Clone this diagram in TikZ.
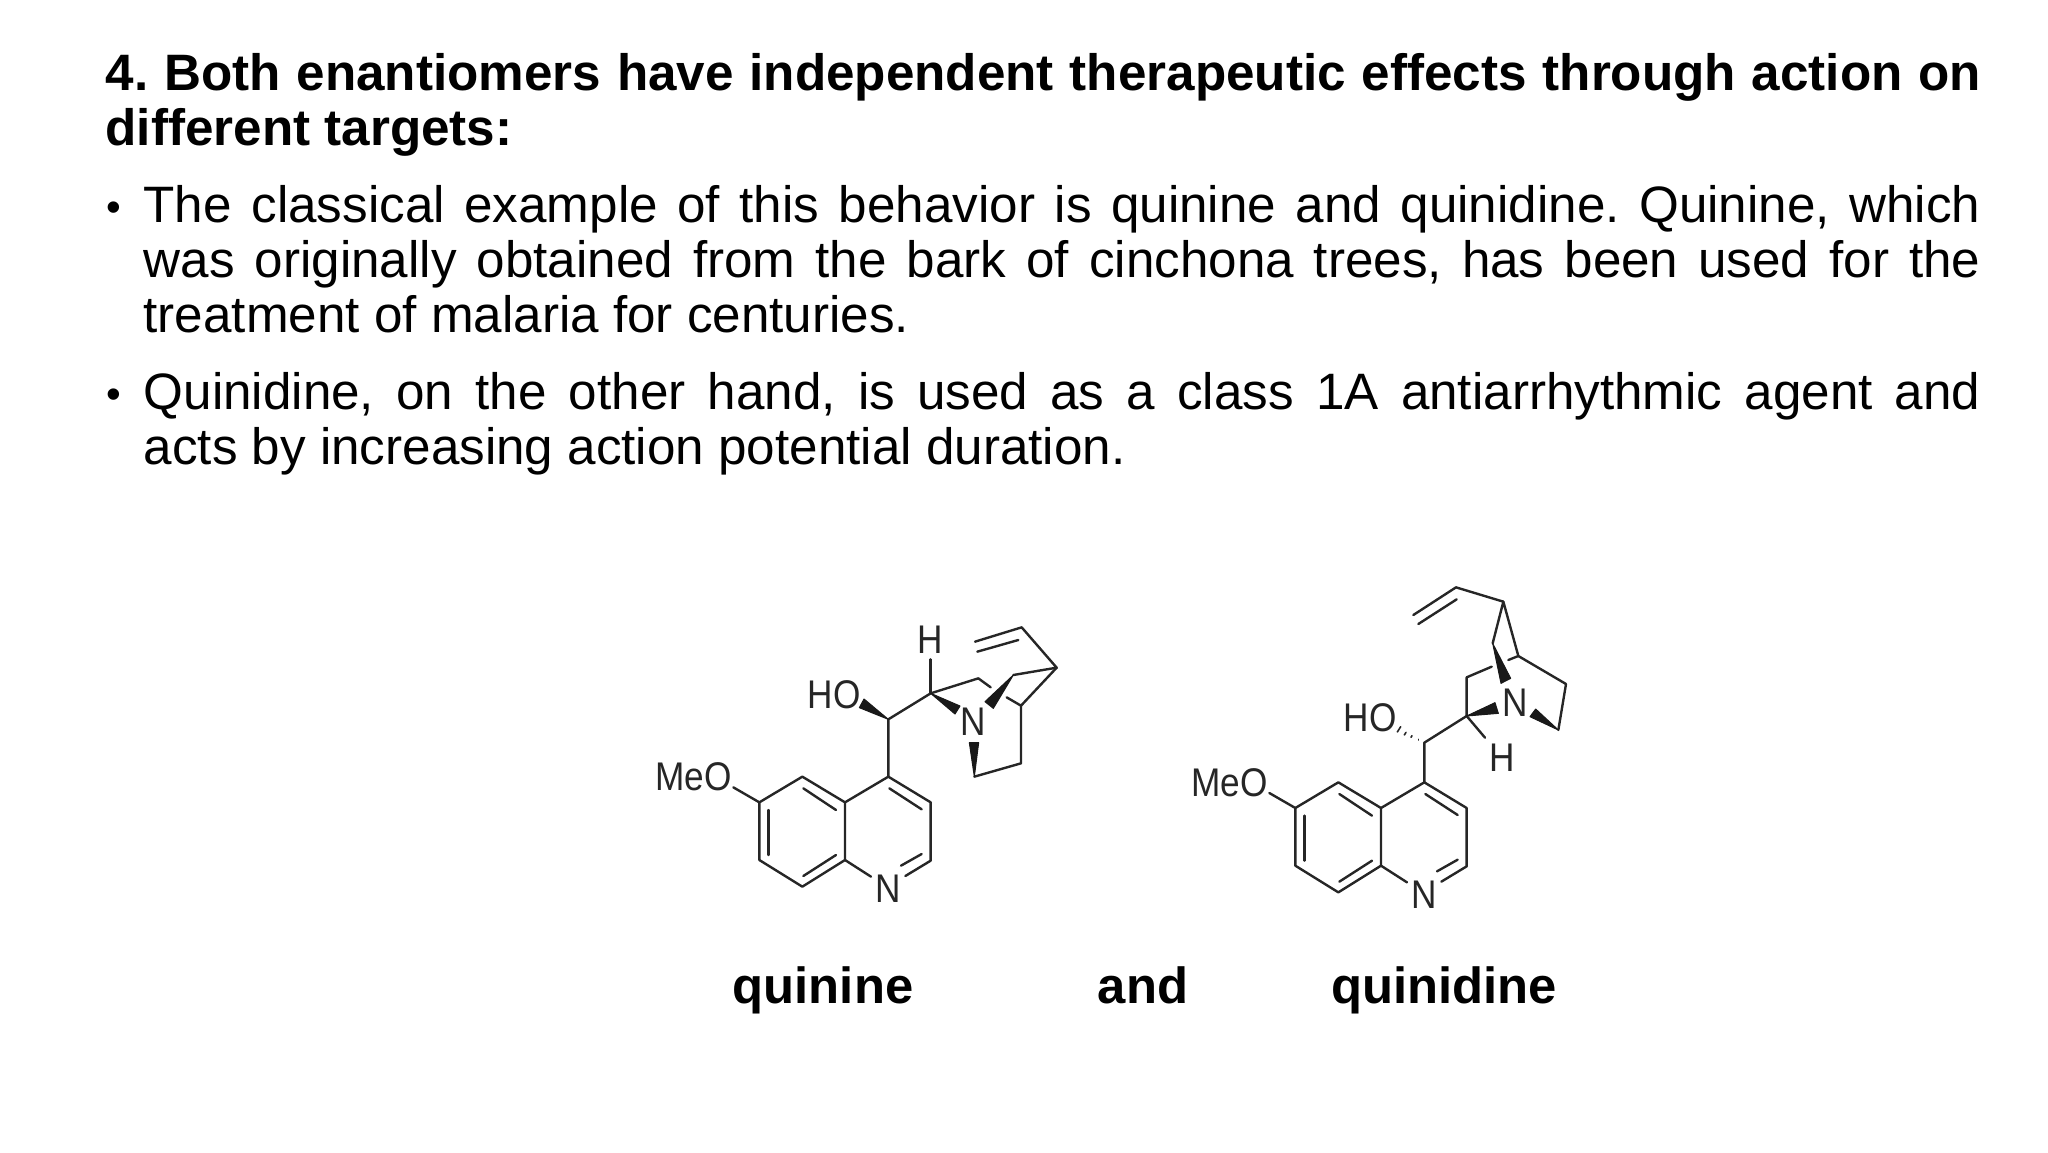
\documentclass[tikz,border=0pt]{standalone}
\usepackage{fontspec}
\setmainfont{Liberation Sans}
\frenchspacing
\tikzset{
    bond/.style={line width=2.4pt,draw=black!85,line cap=round,line join=round},
    wedge/.style={fill=black!90,draw=black!90,line width=1pt,line join=round},
    atom/.style={font=\fontsize{40}{40}\selectfont,inner sep=0pt,xscale=.88,text=black!85},
    heading/.style={font=\fontsize{51.2}{55}\bfseries\selectfont,text width=1875.5pt,align=justify,inner sep=0pt,anchor=north west},
    para/.style={font=\fontsize{51.2}{55.3}\selectfont,text width=1837pt,align=justify,inner sep=0pt,anchor=north west},
    bullet/.style={font=\fontsize{42}{42}\selectfont,inner sep=0pt,anchor=north west},
    caption/.style={font=\fontsize{50.8}{50.8}\bfseries\selectfont,inner sep=0pt,anchor=base}
}
\begin{document}
\begin{tikzpicture}[x=1pt,y=-1pt]
    \useasboundingbox (0,0) rectangle (2048,1152);

    % text
    \node[heading] (title) at (105.5,53) {4. Both enantiomers have independent therapeutic effects through action on different targets:};
    \node[bullet] (dotA) at (106,202) {•};
    \node[para] (textA) at (143.5,185) {The classical example of this behavior is quinine and quinidine. Quinine, which was originally obtained from the bark of cinchona trees, has been used for the treatment of malaria for centuries.};
    \node[bullet] (dotB) at (106,389) {•};
    \node[para] (textB) at (143.5,372) {Quinidine, on the other hand, is used as a class 1A antiarrhythmic agent and\linebreak acts by increasing action potential duration.};
    \node[caption] (nameA) at (823,1003) {quinine};
    \node[caption] (nameB) at (1143,1003) {and};
    \node[caption] (nameC) at (1444,1003) {quinidine};

    % quinoline, same in both
    \foreach \Q/\sx/\sy in {a/640/600,b/1176/605.67}{
        \begin{scope}[shift={(\sx,\sy)},x=1/3*1pt,y=-1/3*1pt]
            \coordinate (\Q C4) at (745,530);
            \coordinate (\Q C3) at (872,607);
            \coordinate (\Q C2) at (872,782);
            \coordinate (\Q C1) at (796,828);
            \coordinate (\Q N) at (693,830);
            \coordinate (\Q D) at (615,780);
            \coordinate (\Q E) at (615,607);
            \coordinate (\Q F) at (487,530);
            \coordinate (\Q G) at (358,607);
            \coordinate (\Q H) at (358,780);
            \coordinate (\Q I) at (487,860);
            \coordinate (\Q O) at (280,562);
            \node[atom] (\Q NN) at (745,866) {N};
            \node[atom] (\Q MeO) at (160,530) {MeO};
            \draw[bond] (\Q C1) -- (\Q C2) -- (\Q C3) -- (\Q C4) -- (\Q E) -- (\Q F) -- (\Q G) -- (\Q H) -- (\Q I) -- (\Q D) -- (\Q E);
            \draw[bond] (\Q D) -- (\Q N);
            \draw[bond] (\Q G) -- (\Q O);
            \draw[bond] (748,565) -- (845,628); % inner lines
            \draw[bond] (783,797) -- (845,762);
            \draw[bond] (490,565) -- (588,630);
            \draw[bond] (385,630) -- (385,765);
            \draw[bond] (490,828) -- (588,765);
        \end{scope}
    }

    % quinine
    \begin{scope}[shift={(640,600)},x=1/3*1pt,y=-1/3*1pt]
        \coordinate (J) at (745,358);
        \coordinate (K) at (872,280);
        \coordinate (L) at (872,178);
        \coordinate (M) at (1015,235);
        \coordinate (P) at (1052,262);
        \coordinate (R) at (1120,225);
        \coordinate (S) at (1250,203);
        \coordinate (T) at (1145,82);
        \coordinate (U) at (1005,125);
        \coordinate (V) at (1143,317);
        \coordinate (W) at (1100,292);
        \coordinate (X) at (1143,490);
        \coordinate (Y) at (1003,530);
        \node[atom] (HOa) at (583,283) {HO};
        \node[atom] (Ha) at (872,118) {H};
        \node[atom] (Na) at (1000,365) {N};
        \draw[bond] (aC4) -- (J) -- (K) -- (M) -- (P);
        \draw[bond] (K) -- (L);
        \draw[bond] (R) -- (S) -- (T) -- (U);
        \draw[bond] (1012,155) -- (1135,120);
        \draw[bond] (S) -- (V) -- (X) -- (Y);
        \draw[bond] (V) -- (W);
        \filldraw[wedge] (J) -- (672,297) -- (658,323) -- cycle;
        \filldraw[wedge] (K) -- (960,318) -- (945,342) -- cycle;
        \filldraw[wedge] (R) -- (1035,305) -- (1060,325) -- cycle;
        \filldraw[wedge] (Y) -- (988,428) -- (1016,428) -- cycle;
    \end{scope}

    % quinidine
    \begin{scope}[shift={(1170,570)},x=1/3*1pt,y=-1/3*1pt]
        \coordinate (j) at (763,518);
        \coordinate (k) at (890,438);
        \coordinate (l) at (945,503);
        \coordinate (m) at (890,322);
        \coordinate (n) at (965,290);
        \coordinate (p) at (968,220);
        \coordinate (q) at (1000,95);
        \coordinate (r) at (1045,258);
        \coordinate (s) at (1015,270);
        \coordinate (t) at (1188,342);
        \coordinate (u) at (1165,480);
        \coordinate (v) at (858,52);
        \coordinate (w) at (730,135);
        \node[atom] (HOb) at (600,443) {HO};
        \node[atom] (Hb) at (997,562) {H};
        \node[atom] (Nb) at (1035,398) {N};
        \draw[bond] (bC4) -- (j) -- (k) -- (m) -- (n);
        \draw[bond] (k) -- (l);
        \draw[bond] (p) -- (q) -- (r) -- (t) -- (u);
        \draw[bond] (r) -- (s);
        \draw[bond] (q) -- (v) -- (w);
        \draw[bond] (860,88) -- (745,162);
        \filldraw[wedge] (k) -- (975,398) -- (985,430) -- cycle;
        \filldraw[wedge] (p) -- (993,340) -- (1022,325) -- cycle;
        \filldraw[wedge] (u) -- (1097,417) -- (1080,440) -- cycle;
        % hashed bond
        \foreach \a/\b/\c/\d in {745/508/745/510,726/497/723/502,708/487/703/495,692/470/682/486}
            \draw[bond,line width=1.6pt] (\a,\b) -- (\c,\d);
    \end{scope}
\end{tikzpicture}
\end{document}
